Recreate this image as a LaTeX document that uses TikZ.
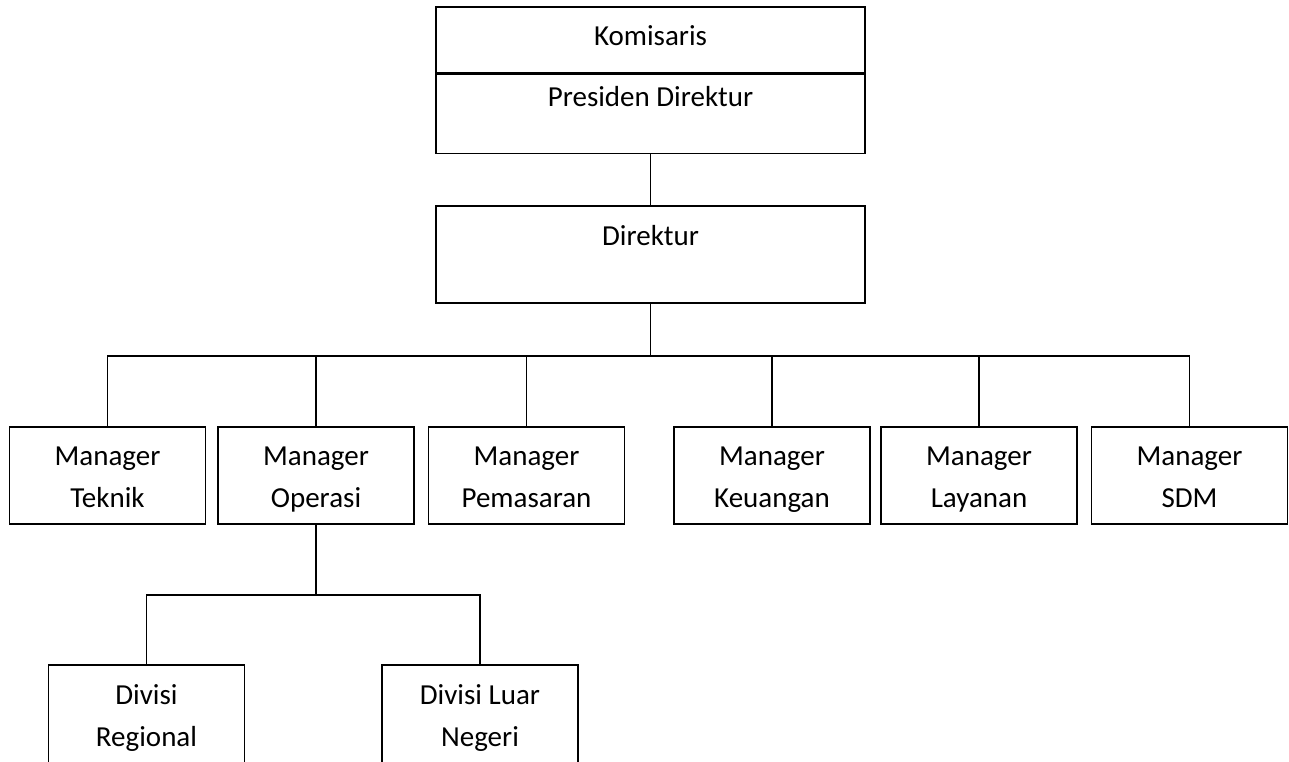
\documentclass[tikz,border=0pt]{standalone}
\usepackage{fontspec}
\setmainfont{Carlito}
\usetikzlibrary{positioning}

\tikzset{
  unitbox/.style={draw, line width=1.5pt, inner sep=0pt, minimum width=196pt,
    align=center, text height=80pt, text depth=17pt,
    font=\fontsize{29}{42}\selectfont},
  topbox/.style={draw, line width=1.6pt, inner sep=0pt, minimum width=429pt,
    font=\fontsize{29}{42}\selectfont},
  link/.style={line width=1.2pt}
}

\begin{document}
\begin{tikzpicture}[x=1pt,y=-1pt]

\clip (0,0) rectangle (1289,761);
\useasboundingbox (0,0) rectangle (1289,761);
\fill[white] (0,0) rectangle (1289,761);

% top level
\node[topbox, text height=38pt, text depth=28pt] (komisaris) at (650.5,40) {Komisaris};
\node[topbox, text height=32pt, text depth=47pt, below=0pt of komisaris] (presiden) {Presiden Direktur};

\node[topbox, text height=39pt, text depth=58pt] (direktur) at (650.5,254.5) {Direktur};

% managers
\node[unitbox] (mteknik)    at (107.5,475.5) {Manager\\Teknik};
\node[unitbox] (moperasi)   at (316,475.5)   {Manager\\Operasi};
\node[unitbox] (mpemasaran) at (526.5,475.5) {Manager\\Pemasaran};
\node[unitbox] (mkeuangan)  at (772,475.5)   {Manager\\Keuangan};
\node[unitbox] (mlayanan)   at (979,475.5)   {Manager\\Layanan};
\node[unitbox] (msdm)       at (1189.5,475.5) {Manager\\SDM};

% divisions
\node[unitbox, text height=81pt, text depth=19pt] (dregional) at (146.5,715) {Divisi\\Regional};
\node[unitbox, text height=81pt, text depth=19pt] (dluar)     at (480,715)   {Divisi Luar\\Negeri};

\coordinate (bus) at (650.5,356);
\coordinate (subbus) at (316,595);

\draw[link] (presiden.south) -- (direktur.north);
\draw[link] (direktur.south) -- (bus);
\draw[link] (mteknik.north) |- (bus) -| (msdm.north);
\draw[link] (moperasi.north) -- (moperasi.north |- bus);
\draw[link] (mpemasaran.north) -- (mpemasaran.north |- bus);
\draw[link] (mkeuangan.north) -- (mkeuangan.north |- bus);
\draw[link] (mlayanan.north) -- (mlayanan.north |- bus);

\draw[link] (moperasi.south) -- (subbus);
\draw[link] (dregional.north) |- (subbus) -| (dluar.north);

\end{tikzpicture}
\end{document}
